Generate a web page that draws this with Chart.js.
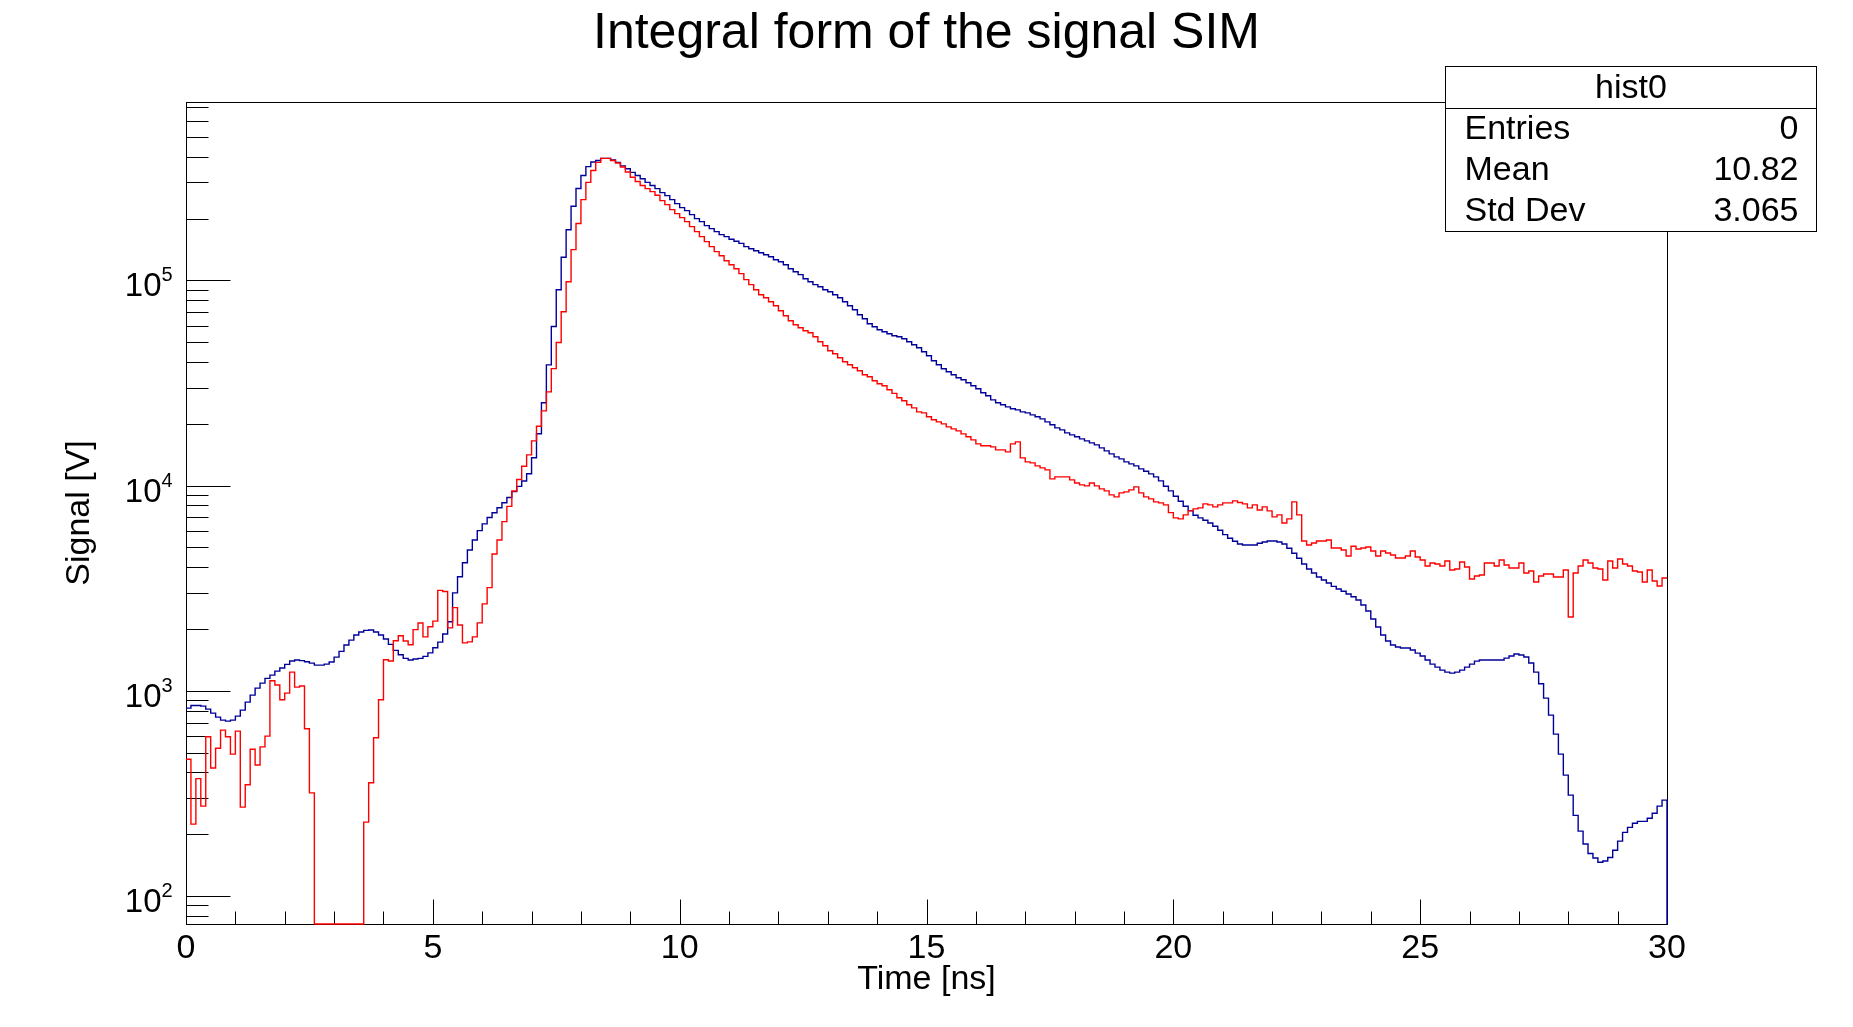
<!DOCTYPE html>
<html>
<head>
<meta charset="utf-8">
<title>Integral form of the signal SIM</title>
<script src="https://cdn.jsdelivr.net/npm/chart.js@4.4.0/dist/chart.umd.min.js"></script>
<style>
  html, body { margin: 0; padding: 0; background: #ffffff; }
  #wrap { width: 1853px; height: 1027px; position: relative; }
</style>
</head>
<body>
<div id="wrap"><canvas id="signalChart"></canvas></div>
<script>
// Histogram binning: 300 bins of 0.1 ns from 0 to 30 ns
const xMin = 0;
const xMax = 30;
const nBins = 300;

// Blue histogram, bin contents
const blueValues = [
  823, 848, 848, 842, 814, 778, 744, 719, 711, 719,
  752, 805, 880, 952, 1030, 1090, 1149, 1192, 1247, 1290,
  1344, 1396, 1412, 1402, 1385, 1364, 1334, 1334, 1348, 1380,
  1459, 1555, 1670, 1766, 1869, 1932, 1968, 1976, 1932, 1869,
  1787, 1683, 1573, 1499, 1438, 1412, 1427, 1438, 1470, 1530,
  1620, 1725, 1891, 2168, 3000, 3594, 4204, 4856, 5433, 6030,
  6505, 6990, 7370, 7800, 8250, 8750, 9340, 9910, 10530, 11410,
  13670, 17880, 25330, 38760, 59550, 89950, 129700, 176600, 229600, 280500,
  324300, 358300, 377500, 383800, 393000, 393000, 386600, 375800, 361200, 350000,
  336000, 324300, 312800, 300400, 289700, 280100, 267700, 258800, 247500, 236600,
  226200, 218700, 209100, 199900, 193300, 184800, 178700, 172800, 167100, 163300,
  158500, 155000, 151500, 146000, 142700, 139500, 136400, 133400, 130400, 126100,
  123300, 119200, 114000, 110200, 106600, 101900, 98500, 95300, 93100, 90000,
  88050, 85100, 82300, 78700, 75200, 71900, 68000, 65000, 61500, 59400,
  57450, 56200, 54950, 53700, 53100, 51940, 50210, 48560, 46950, 44880,
  42910, 40560, 38780, 37080, 35850, 34660, 33510, 32770, 31680, 30630,
  29610, 28320, 27380, 26170, 25310, 24750, 24190, 23660, 23390, 22870,
  22610, 22110, 21630, 21140, 20440, 19770, 19110, 18690, 18070, 17670,
  17280, 16890, 16520, 16150, 15790, 15260, 14760, 14270, 13800, 13490,
  13040, 12760, 12470, 12060, 11750, 11400, 11020, 10540, 9925, 9419,
  8872, 8386, 7929, 7551, 7166, 6955, 6775, 6575, 6334, 6055,
  5768, 5535, 5352, 5194, 5136, 5136, 5136, 5233, 5312, 5372,
  5372, 5312, 5194, 4947, 4677, 4422, 4148, 3922, 3750, 3585,
  3466, 3351, 3228, 3133, 3052, 2962, 2874, 2769, 2618, 2447,
  2237, 2045, 1869, 1747, 1670, 1633, 1615, 1615, 1579, 1526,
  1476, 1411, 1349, 1304, 1261, 1233, 1219, 1233, 1261, 1304,
  1349, 1395, 1411, 1411, 1411, 1411, 1411, 1443, 1476, 1510,
  1493, 1460, 1365, 1233, 1082, 921, 761, 615, 491, 388,
  310, 247, 207, 179, 161, 153, 146, 148, 154, 167,
  185, 204, 216, 226, 231, 231, 239, 253, 274, 293
];

// Red histogram, bin contents (0 = empty bin, drawn on the bottom edge)
const redValues = [
  464, 224, 373, 274, 597, 420, 525, 643, 597, 491,
  636, 271, 348, 519, 435, 533, 601, 1119, 1066, 904,
  974, 1233, 1042, 1054, 653, 318, 0, 0, 0, 0,
  0, 0, 0, 0, 0, 0, 229, 356, 590, 904,
  1416, 1396, 1753, 1854, 1747, 1677, 1985, 2138, 1831, 2051,
  2185, 3083, 3047, 2025, 2542, 2090, 1711, 1731, 1831, 2142,
  2651, 3183, 4643, 5433, 6670, 7920, 9410, 10700, 12410, 14110,
  16520, 19470, 23130, 28620, 37150, 49780, 70300, 98400, 141200, 189200,
  247400, 300400, 343300, 375800, 393000, 393000, 383800, 373200, 356600, 337300,
  318000, 303000, 290000, 280000, 270700, 259800, 244700, 233900, 221200, 211400,
  202200, 193300, 182700, 172800, 163300, 154400, 146000, 138000, 131900, 124700,
  119200, 114000, 107800, 100800, 95300, 90000, 85100, 82300, 78700, 75200,
  71100, 67230, 63560, 60770, 58760, 56820, 55550, 53100, 50210, 47990,
  45380, 43880, 41950, 40110, 38780, 37500, 36260, 34660, 33890, 32400,
  31330, 30630, 29290, 28150, 26770, 25880, 24750, 23920, 22870, 22610,
  21630, 20910, 20440, 19990, 19330, 18900, 18480, 17870, 17280, 16700,
  15970, 15620, 15620, 15440, 14930, 14930, 14590, 15970, 16330, 13650,
  13040, 12900, 12470, 12200, 11920, 10780, 11020, 11020, 11020, 10660,
  10300, 10080, 9963, 10300, 9963, 9633, 9419, 9006, 8806, 9209,
  9314, 9526, 9851, 9209, 8806, 8610, 8325, 8233, 8050, 7383,
  6955, 6878, 7193, 7523, 7694, 7781, 8141, 8050, 7870, 8050,
  8233, 8233, 8418, 8262, 8141, 7781, 8050, 7607, 7870, 7523,
  7034, 7193, 6575, 6878, 8325, 7193, 5372, 5136, 5253, 5372,
  5372, 5433, 4966, 4966, 4856, 4539, 5060, 4910, 4966, 5022,
  4802, 4539, 4802, 4695, 4590, 4438, 4438, 4539, 4802, 4488,
  4340, 4057, 4196, 4148, 4057, 4292, 3879, 3922, 4243, 4012,
  3505, 3626, 3667, 4196, 4196, 4057, 4340, 4102, 3967, 3967,
  4196, 3750, 3835, 3389, 3626, 3708, 3708, 3585, 3585, 3879,
  2288, 3750, 4057, 4340, 4196, 3967, 3922, 3466, 4292, 3967,
  4389, 4148, 4057, 3835, 3793, 3389, 3879, 3428, 3240, 3544
];

// y range of the frame (log axis)
const yMin = 73;
const yMax = 7.4e5;

// tick labels
const xMajorTicks = [0, 5, 10, 15, 20, 25, 30];
const xTickLabels = ['0', '5', '10', '15', '20', '25', '30'];
const yMajorTicks = [100, 1000, 10000, 100000];
const yTickExponents = ['2', '3', '4', '5'];

// stats box
const statsTitle = 'hist0';
const statsLabels = ['Entries', 'Mean', 'Std Dev'];
const statsValues = ['0', '10.82', '3.065'];

const chartTitle = 'Integral form of the signal SIM';
const xTitle = 'Time [ns]';
const yTitle = 'Signal [V]';

const FONT = '"Liberation Sans", Arial, Helvetica, sans-serif';

// histogram -> step points at bin low edges, plus a closing point at xMax.
// Empty bins sit on the frame bottom (log axis can't show 0), like ROOT does.
function toPoints(values, closeValue) {
  const w = (xMax - xMin) / nBins;
  const floor = v => (v > 0 ? v : yMin);
  const pts = values.map((v, i) => ({ x: xMin + i * w, y: floor(v) }));
  pts.push({ x: xMax, y: floor(closeValue) });
  return pts;
}

// frame, ticks, labels and stats box drawn ROOT-style
const rootFrame = {
  id: 'rootFrame',
  beforeDatasetsDraw(chart) {
    const { ctx, chartArea: a, scales } = chart;
    const xs = scales.x, ys = scales.y;
    const L = Math.round(a.left) + 0.5, R = Math.round(a.right) + 0.5;
    const T = Math.round(a.top) + 0.5, B = Math.round(a.bottom) + 0.5;

    ctx.save();
    ctx.strokeStyle = '#000';
    ctx.lineWidth = 1;
    ctx.strokeRect(L, T, R - L, B - T);

    ctx.beginPath();
    // x ticks: every 1 ns, longer every 5 ns
    for (let t = xMin + 1; t < xMax; t++) {
      const px = Math.round(xs.getPixelForValue(t)) + 0.5;
      const len = xMajorTicks.includes(t) ? 25 : 13;
      ctx.moveTo(px, B);
      ctx.lineTo(px, B - len);
    }
    // y ticks: decades long, 2..9 short
    for (let d = 1; d <= 5; d++) {
      for (let m = 1; m <= 9; m++) {
        const v = m * Math.pow(10, d);
        if (v < yMin || v > yMax) continue;
        const py = Math.round(ys.getPixelForValue(v)) + 0.5;
        const len = m === 1 ? 44 : 22;
        ctx.moveTo(L, py);
        ctx.lineTo(L + len, py);
      }
    }
    ctx.stroke();

    ctx.fillStyle = '#000';
    // x labels
    ctx.font = '34px ' + FONT;
    ctx.textAlign = 'center';
    ctx.textBaseline = 'middle';
    xMajorTicks.forEach((t, i) => {
      ctx.fillText(xTickLabels[i], xs.getPixelForValue(t), B + 24);
    });

    // y labels: 10 with superscript exponent
    yMajorTicks.forEach((v, i) => {
      const py = ys.getPixelForValue(v);
      ctx.textBaseline = 'alphabetic';
      ctx.font = '33px ' + FONT;
      ctx.textAlign = 'right';
      ctx.fillText('10', L - 25, py + 16);
      ctx.font = '20px ' + FONT;
      ctx.textAlign = 'left';
      ctx.fillText(yTickExponents[i], L - 25, py + 1);
    });

    // axis titles
    ctx.font = '34px ' + FONT;
    ctx.textAlign = 'center';
    ctx.textBaseline = 'middle';
    ctx.fillText(xTitle, (a.left + a.right) / 2, 980);
    ctx.save();
    ctx.translate(80, (a.top + a.bottom) / 2);
    ctx.rotate(-Math.PI / 2);
    ctx.fillText(yTitle, 0, 0);
    ctx.restore();

    // main title
    ctx.font = '50px ' + FONT;
    ctx.textBaseline = 'alphabetic';
    ctx.fillText(chartTitle, chart.width / 2, 48);
    ctx.restore();
  },
  afterDraw(chart) {
    const { ctx } = chart;
    const bx = 1445.5, by = 66.5, bw = 371, bh = 165;
    const rowH = bh / 4;
    ctx.save();
    ctx.fillStyle = '#fff';
    ctx.fillRect(bx, by, bw, bh);
    ctx.strokeStyle = '#000';
    ctx.lineWidth = 1;
    ctx.strokeRect(bx, by, bw, bh);
    ctx.beginPath();
    ctx.moveTo(bx, Math.round(by + rowH) + 0.5);
    ctx.lineTo(bx + bw, Math.round(by + rowH) + 0.5);
    ctx.stroke();

    ctx.fillStyle = '#000';
    ctx.font = '34px ' + FONT;
    ctx.textBaseline = 'middle';
    ctx.textAlign = 'center';
    ctx.fillText(statsTitle, bx + bw / 2, by + rowH / 2 + 1);
    statsLabels.forEach((lab, i) => {
      const cy = by + rowH * (i + 1.5) + 1;
      ctx.textAlign = 'left';
      ctx.fillText(lab, bx + 19, cy);
      ctx.textAlign = 'right';
      ctx.fillText(statsValues[i], bx + bw - 18, cy);
    });
    ctx.restore();
  }
};

document.addEventListener('DOMContentLoaded', function() {
  const ctx = document.getElementById('signalChart');
  new Chart(ctx, {
    type: 'line',
    data: {
      datasets: [
        {
          label: 'red',
          data: toPoints(redValues, redValues[redValues.length - 1]),
          borderColor: '#ff0000',
          borderWidth: 1.4,
          stepped: 'before',
          pointRadius: 0,
          tension: 0,
          fill: false,
          clip: false
        },
        {
          label: 'blue',
          data: toPoints(blueValues, 0),
          borderColor: '#000099',
          borderWidth: 1.4,
          stepped: 'before',
          pointRadius: 0,
          tension: 0,
          fill: false,
          clip: false
        }
      ]
    },
    options: {
      responsive: true,
      maintainAspectRatio: false,
      animation: false,
      layout: { padding: { left: 186, right: 186, top: 102, bottom: 103 } },
      plugins: {
        legend: { display: false },
        tooltip: { enabled: false }
      },
      scales: {
        x: { type: 'linear', min: xMin, max: xMax, display: false },
        y: { type: 'logarithmic', min: yMin, max: yMax, display: false }
      }
    },
    plugins: [rootFrame]
  });
});
</script>
</body>
</html>
